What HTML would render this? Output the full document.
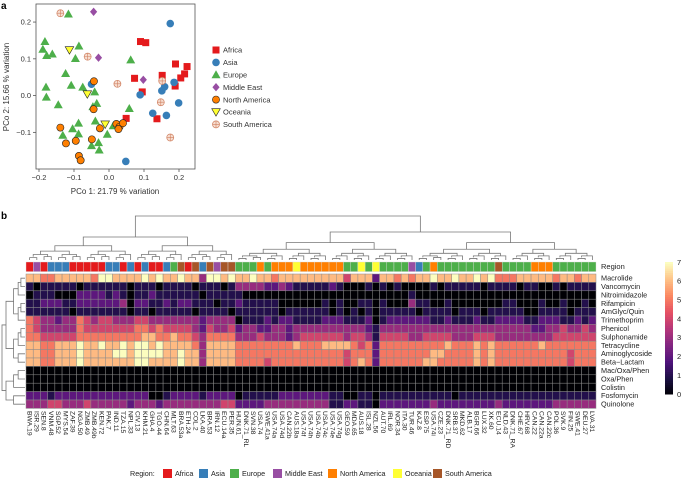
<!DOCTYPE html>
<html><head><meta charset="utf-8"><style>
body{margin:0;background:#fff}
svg{display:block;font-family:"Liberation Sans",sans-serif}
</style></head><body>
<svg id="fig" width="683" height="478" viewBox="0 0 683 478">
<text x="1" y="9" font-size="10" font-weight="bold">a</text>
<text x="1" y="219" font-size="10" font-weight="bold">b</text>
<g id="scatter"></g>
<g id="legendA"></g>
<g id="heat"></g>
<g id="legendB"></g>
</svg>
<script>
const NS="http://www.w3.org/2000/svg";
function mk(tag,attrs,parent){const e=document.createElementNS(NS,tag);for(const k in attrs)e.setAttribute(k,attrs[k]);parent.appendChild(e);return e;}
const regionNames=["Africa","Asia","Europe","Middle East","North America","Oceania","South America"];
const regionColors=["#e41a1c","#377eb8","#4daf4a","#984ea3","#ff7f00","#ffff33","#a65628"];
// ---------- PCoA data ----------
const africaX=[0.090,0.105,0.073,0.095,0.152,0.190,0.223,0.205,0.216,0.189,0.049,0.137];
const africaY=[0.147,0.144,0.047,0.010,0.055,0.086,0.079,0.048,0.059,0.026,-0.062,-0.063];
const asiaX=[0.175,-0.050,0.089,0.151,0.159,0.186,0.199,0.125,0.164,0.048];
const asiaY=[0.196,0.031,0.002,0.013,0.024,0.036,-0.020,-0.048,-0.054,-0.179];
const europeX=[-0.116,-0.183,-0.189,-0.178,-0.162,-0.086,-0.096,0.062,-0.124,-0.108,-0.180,-0.179,-0.145,-0.075,-0.041,-0.035,-0.046,0.058,-0.039,-0.087,-0.104,-0.087,-0.132,-0.005,0.012,-0.050,-0.030,-0.028];
const europeY=[0.222,0.147,0.126,0.109,0.113,0.135,0.101,0.097,0.060,0.028,0.023,-0.004,-0.025,0.023,0.010,-0.021,-0.030,-0.035,-0.069,-0.075,-0.090,-0.104,-0.108,-0.105,-0.082,-0.136,-0.128,-0.148];
const meX=[-0.044,-0.030,0.098];
const meY=[0.228,0.103,0.043];
const naX=[-0.043,-0.044,-0.139,-0.123,-0.095,-0.049,-0.026,0.021,0.030,0.027,0.040,-0.086,-0.081];
const naY=[0.039,-0.037,-0.087,-0.130,-0.123,-0.119,-0.089,-0.077,-0.085,-0.091,-0.075,-0.164,-0.176];
const ocX=[-0.113,-0.062,-0.011];
const ocY=[0.124,0.004,-0.078];
const saX=[-0.139,-0.061,0.024,0.152,0.148,0.175];
const saY=[0.224,0.106,0.032,0.040,-0.018,-0.114];
const xTicks=[-0.2,-0.1,0.0,0.1,0.2];
const yTicks=[-0.1,0.0,0.1,0.2];
const sx=v=>109+v*350, sy=v=>95.6-v*367.7;
const S=document.getElementById('scatter');
const box=mk('rect',{x:36,y:4,width:159,height:165,fill:'none',stroke:'#555','stroke-width':0.8},S);

xTicks.forEach(t=>{const l=mk('line',{x1:sx(t),x2:sx(t),y1:169,y2:172,stroke:'#555','stroke-width':0.8},S);

const tx=mk('text',{x:sx(t),y:180,'font-size':7.5,'text-anchor':'middle',fill:'#333'},S);tx.textContent=(t<0?'\u2212':'')+Math.abs(t).toFixed(1);
});
yTicks.forEach(t=>{const l=mk('line',{x1:33,x2:36,y1:sy(t),y2:sy(t),stroke:'#555','stroke-width':0.8},S);

const tx=mk('text',{x:31,y:sy(t)+2.6,'font-size':7.5,'text-anchor':'end',fill:'#333'},S);tx.textContent=(t<0?'\u2212':'')+Math.abs(t).toFixed(1);
});
let xt=mk('text',{x:115,y:194,'font-size':8,'text-anchor':'middle',fill:'#333'},S);xt.textContent='PCo 1: 21.79 % variation';

let yt=mk('text',{x:0,y:0,'font-size':8,'text-anchor':'middle',fill:'#333',transform:'translate(9,87) rotate(-90)'},S);yt.textContent='PCo 2: 15.66 % variation';

function marker(k,x,y,parent){
 let e;
 if(k===0){e=mk('rect',{x:x-3.5,y:y-3.5,width:7,height:7,fill:regionColors[0]},parent);}
 else if(k===1){e=mk('circle',{cx:x,cy:y,r:3.8,fill:regionColors[1]},parent);}
 else if(k===2){e=mk('path',{d:`M${x},${y-4.5}L${x+4.5},${y+3.5}L${x-4.5},${y+3.5}Z`,fill:regionColors[2]},parent);}
 else if(k===3){e=mk('path',{d:`M${x},${y-4.2}L${x+3.6},${y}L${x},${y+4.2}L${x-3.6},${y}Z`,fill:regionColors[3]},parent);}
 else if(k===4){e=mk('circle',{cx:x,cy:y,r:3.6,fill:regionColors[4],stroke:'#222','stroke-width':0.6},parent);}
 else if(k===5){e=mk('path',{d:`M${x-4.3},${y-3.3}L${x+4.3},${y-3.3}L${x},${y+4.2}Z`,fill:regionColors[5],stroke:'#222','stroke-width':0.6},parent);}
 else {e=mk('g',{},parent);mk('circle',{cx:x,cy:y,r:3.5,fill:'#f6ddd0',stroke:'#d08060','stroke-width':0.7},e);
   mk('path',{d:`M${x-3.5},${y}H${x+3.5}M${x},${y-3.5}V${y+3.5}`,stroke:'#d08060','stroke-width':0.6},e);}
 return e;
}
const groups=[[africaX,africaY],[asiaX,asiaY],[europeX,europeY],[meX,meY],[naX,naY],[ocX,ocY],[saX,saY]];
groups.forEach((g,k)=>{g[0].forEach((v,i)=>{const m=marker(k,sx(v),sy(g[1][i]),S);

});});
const LA=document.getElementById('legendA');
regionNames.forEach((n,k)=>{const y=50+k*12.4;const g=mk('g',{},LA);

marker(k,216,y,g);const t=mk('text',{x:223,y:y+2.7,'font-size':7.5,fill:'#333'},g);t.textContent=n;});
// ---------- heatmap data ----------
const samples=["BWA.19","ISR.29","SEN.8","VNM.48","SGP.52","MYS.54","ZAF.39","NGA.50","ZMB.49","ZMB.49b","KEN.72","PAK.7","IND.11","TZA.15","NPL.33","CIV.13","KHM.21","GHA.4","TGO.44","CHN.64","MLT.63","BRA.53a","ETH.24","COL.2","LKA.40","BRA.53","IRN.12","ECU.14a","PER.35","HUN.61","DNK.71_RL","SVN.38","USA.74","SWE.41a","USA.74a","USA.74d","CAN.22b","AUS.18a","USA.74f","USA.74h","USA.74b","USA.74c","USA.74e","USA.74g","GEO.59","MDA.65","AUS.18","ISL.28","NZL.56","AUT.70","IRL.69","NOR.34","ITA.30","TUR.46","KAZ.8","ESP.75","USA.74i","CZE.23","DNK.71_RD","SRB.37","MKD.62","ALB.17","BGR.66","LUX.32","XK.60","ECU.14","NLD.43","DNK.71_RA","CHE.67","HRV.68","CAN.22","CAN.22a","CAN.22c","POL.36","SVK.9","FIN.25","SWE.41","DEU.27","LVA.31"];
const sampleRegion=[0,3,0,1,1,1,0,0,0,0,0,1,1,0,1,0,1,0,0,1,2,6,0,6,1,6,3,6,6,2,2,2,4,2,4,4,4,5,4,4,4,4,4,4,2,2,5,2,5,2,2,2,2,3,1,2,4,2,2,2,2,2,2,2,2,6,2,2,2,2,4,4,4,2,2,2,2,2,2];
const drugs=["Macrolide","Vancomycin","Nitroimidazole","Rifampicin","AmGlyc/Quin","Trimethoprim","Phenicol","Sulphonamide","Tetracycline","Aminoglycoside","Beta\u2212Lactam","Mac/Oxa/Phen","Oxa/Phen","Colistin","Fosfomycin","Quinolone"];
const macrolide=[6,6,5,5,6,6,6,6,6,5,7,7,6,6,6,6,7,6,7,6,6,7,6,6,3,7,7,6,7,6,6,7,6,6,5,6,6,6,6,6,6,6,6,6,4,6,6,6,2,6,6,5,6,5,6,6,7,6,6,7,6,6,7,6,7,5,5,5,6,6,6,6,6,5,6,6,5,6,6];
const vancomycin=[1,0,1,1,1,1,1,0,1,1,1,1,1,1,0,1,1,1,0,1,1,1,1,0,1,1,1,0,1,3,3,3,3,2,2,3,2,1,1,1,1,1,2,1,0,0,0,1,0,1,0,1,0,0,0,0,1,0,1,1,1,1,1,0,1,1,1,1,0,1,1,0,0,1,0,1,1,1,1];
const nitroimidazole=[0,1,1,1,0,0,0,2,2,2,2,1,2,1,0,1,1,2,1,1,1,1,1,1,0,1,1,1,1,1,0,0,0,0,0,0,0,0,0,0,0,0,0,0,0,0,0,0,0,0,0,0,0,1,0,0,0,0,0,0,0,0,0,0,0,0,0,0,0,0,0,0,0,0,0,0,0,0,0];
const rifampicin=[1,1,2,2,2,1,1,2,2,2,2,2,2,3,0,2,2,1,1,2,1,2,2,1,1,1,0,1,1,2,1,1,1,1,1,0,0,0,0,0,0,1,0,1,0,0,1,1,0,1,0,0,0,3,1,1,0,0,1,0,0,0,0,0,0,0,1,1,0,0,0,1,0,0,1,0,0,1,0];
const amglycquin=[1,1,1,1,1,1,0,1,1,1,1,1,1,1,0,1,1,0,1,1,1,1,1,0,1,1,1,1,0,1,1,1,1,1,1,0,1,1,1,1,1,1,0,1,0,1,0,1,0,1,1,1,1,1,0,1,1,1,1,0,1,1,1,0,1,1,1,1,1,0,0,1,1,1,1,0,1,1,1];
const trimethoprim=[5,4,3,3,2,3,3,5,4,3,4,4,3,3,3,4,4,3,3,3,3,3,3,3,2,3,3,3,3,0,1,1,1,2,1,2,2,1,1,1,1,2,2,2,1,1,1,2,0,1,2,2,2,2,2,2,1,1,2,1,1,1,2,1,1,2,2,2,2,1,1,2,2,2,1,1,2,1,2];
const phenicol=[5,4,3,3,3,3,3,5,4,4,4,4,4,4,4,5,5,4,5,4,4,4,4,3,2,4,3,3,4,2,3,3,2,2,3,3,2,3,3,3,3,3,3,3,3,3,3,2,1,3,3,3,3,3,3,3,3,3,3,3,3,3,3,3,3,3,3,3,3,3,2,2,3,3,4,3,3,4,3];
const sulphonamide=[5,5,4,4,4,4,4,5,5,5,5,5,5,5,5,5,6,6,5,5,6,5,5,4,3,5,5,5,5,3,3,3,4,3,3,3,2,3,4,4,4,4,4,4,3,4,4,3,1,4,4,4,4,3,3,4,4,4,4,3,3,3,4,4,4,3,3,3,3,3,3,3,3,4,4,4,4,4,4];
const tetracycline=[6,6,5,5,6,6,6,7,6,6,7,6,6,7,6,7,7,6,7,6,6,6,6,5,3,6,6,6,6,5,5,5,5,5,5,5,5,6,5,5,5,6,6,6,6,5,4,5,2,5,5,5,5,5,5,5,5,5,6,5,5,5,6,5,6,5,5,5,5,5,5,6,5,5,5,5,5,5,5];
const aminoglycoside=[6,6,5,5,6,6,6,7,6,6,6,6,7,7,6,7,7,7,7,6,6,7,6,6,3,6,6,6,6,5,5,5,5,5,5,5,5,5,5,5,5,5,5,5,4,5,5,5,2,5,5,5,5,5,5,5,6,6,5,5,5,5,6,5,6,5,5,5,5,5,5,5,5,5,5,4,5,5,5];
const betalactam=[6,6,5,5,6,6,6,7,6,6,6,6,6,6,6,7,7,6,6,6,6,7,6,6,3,6,6,6,6,5,5,5,5,4,5,5,5,5,5,5,5,5,5,5,4,5,6,5,2,5,5,5,5,5,5,6,6,5,5,5,5,5,6,5,6,5,5,5,5,5,5,5,5,5,5,4,5,5,5];
const macoxaphen=[0,0,0,0,0,0,0,0,0,0,0,0,0,0,0,0,0,0,0,0,0,0,0,0,0,0,0,0,0,0,0,0,0,0,0,0,0,0,0,0,0,0,0,0,0,0,0,0,0,0,0,0,0,0,0,0,0,0,0,0,0,0,0,0,0,0,0,0,0,0,0,0,0,0,0,0,0,0,0];
const oxaphen=[0,0,0,0,0,0,0,0,0,0,0,0,0,0,0,0,0,0,0,0,0,0,0,0,0,0,0,0,0,0,0,0,0,0,0,0,0,0,0,0,0,0,0,0,0,0,0,0,0,0,0,0,0,0,0,0,0,0,0,0,0,0,0,0,0,0,0,0,0,0,0,0,0,0,0,0,0,0,0];
const colistin=[0,0,0,0,0,0,0,0,0,0,0,0,0,0,0,0,0,0,0,0,0,0,0,0,0,0,0,0,0,0,0,0,0,0,0,0,0,0,0,0,0,0,0,0,0,0,0,0,0,0,0,0,0,0,0,0,0,0,0,0,0,0,0,0,0,0,0,0,0,0,0,0,0,0,0,0,0,0,0];
const fosfomycin=[2,2,2,1,2,2,2,2,2,2,2,2,2,2,2,2,2,0,0,1,2,2,2,2,1,2,2,2,2,0,1,1,1,1,1,2,2,2,2,2,2,2,1,1,0,0,1,1,0,1,1,1,1,1,1,1,1,1,1,0,1,1,1,1,1,1,1,1,1,1,1,1,1,1,1,1,1,1,1];
const quinolone=[3,3,3,4,4,3,3,3,4,3,3,3,3,3,2,3,3,3,2,3,3,3,3,3,3,3,3,4,4,2,2,2,2,3,3,3,3,3,3,3,3,3,1,1,2,2,1,1,0,2,2,2,2,2,2,2,3,2,2,2,2,2,2,2,2,3,2,2,2,2,2,2,2,3,3,3,3,3,3];
const heatRows=[macrolide,vancomycin,nitroimidazole,rifampicin,amglycquin,trimethoprim,phenicol,sulphonamide,tetracycline,aminoglycoside,betalactam,macoxaphen,oxaphen,colistin,fosfomycin,quinolone];
const scaleTicks=[0,1,2,3,4,5,6,7];
// ---------- heatmap drawing ----------
const H=document.getElementById('heat');
const hx0=26,hx1=596,cw=(hx1-hx0)/samples.length,hy0=274,rh=8.4,sy0=262,sh=9.6;
const colX=i=>hx0+i*cw, rowY=r=>hy0+r*rh;
const magma=[[0,0,4],[28,16,68],[79,18,123],[129,37,129],[181,54,122],[229,80,100],[251,135,97],[254,194,135],[252,253,191]];
function cmap(v){let t=Math.max(0,Math.min(1,v/7))*8;const i=Math.min(7,Math.floor(t)),f=t-i;const a=magma[i],b=magma[i+1];
return `rgb(${a.map((c,k)=>Math.round(c+(b[k]-c)*f)).join(',')})`;}
samples.forEach((s,i)=>{const r=mk('rect',{x:colX(i),y:sy0,width:cw,height:sh,fill:regionColors[sampleRegion[i]],stroke:'#ddd','stroke-width':0.4},H);
});
heatRows.forEach((row,r)=>{row.forEach((v,i)=>{const c=mk('rect',{x:colX(i),y:rowY(r),width:cw,height:rh,fill:cmap(v),stroke:'#8a8a8a','stroke-width':0.5},H);
});});
let rl=mk('text',{x:601,y:sy0+7,'font-size':7.5,fill:'#222'},H);rl.textContent='Region';

drugs.forEach((d,r)=>{const t=mk('text',{x:601,y:rowY(r)+6.6,'font-size':7.3,fill:'#222'},H);t.textContent=d;
});
samples.forEach((s,i)=>{const x=colX(i)+cw/2;const t=mk('text',{x:0,y:0,'font-size':6.8,fill:'#222',transform:`translate(${x-2.3},411) rotate(90)`},H);t.textContent=s;
});
// colorbar
const cbx=665,cbTop=262,cbBot=394;
for(let k=0;k<60;k++){const v=7*(1-k/60);const r=mk('rect',{x:cbx,y:cbTop+k*(cbBot-cbTop)/60,width:8,height:(cbBot-cbTop)/60+0.5,fill:cmap(v)},H);
}
scaleTicks.forEach(v=>{const y=cbBot-(v/7)*(cbBot-cbTop);const t=mk('text',{x:677,y:y+2.8,'font-size':7.5,fill:'#222'},H);t.textContent=v;
});
// dendrograms (approximate structure)
const D=mk('g',{stroke:'#777','stroke-width':0.8,fill:'none'},H);

function tree(lo,hi,y,pos,vertical,limit){
 if(lo===hi) return pos(lo);
 const mid=Math.floor((lo+hi)/2);
 const cy=y+(limit-y)*0.38;
 const a=tree(lo,mid,cy+ (hi-lo<4?1:0),pos,vertical,limit), b=tree(mid+1,hi,cy,pos,vertical,limit);
 const ya=(mid===lo)?limit:cy, yb=(mid+1===hi)?limit:cy;
 if(vertical) mk('path',{d:`M${a},${ya}V${y}H${b}V${yb}`},D);
 else mk('path',{d:`M${ya},${a}H${y}V${b}H${yb}`},D);
 return (a+b)/2;
}
const cpos=i=>colX(i)+cw/2;
const lc=tree(0,28,237,cpos,true,260), rc=tree(29,78,232,cpos,true,260);
mk('path',{d:`M${lc},237V216H${rc}V232`},D);
const D2=mk('g',{stroke:'#777','stroke-width':0.8,fill:'none'},H);

const rpos=r=>rowY(r)+rh/2;
function rtree(lo,hi,x){if(lo===hi)return rpos(lo);const mid=Math.floor((lo+hi)/2);const cx=x+(25-x)*0.4;
 const a=rtree(lo,mid,cx),b=rtree(mid+1,hi,cx);const xa=mid===lo?25:cx,xb=mid+1===hi?25:cx;
 mk('path',{d:`M${xa},${a}H${x}V${b}H${xb}`},D2);return (a+b)/2;}
const t1=rtree(0,10,6),t2=rtree(11,15,6);
mk('path',{d:`M6,${t1}H2V${t2}H6`},D2);
// bottom legend
const LB=document.getElementById('legendB');
let rlab=mk('text',{x:130,y:476,'font-size':7.2,fill:'#222'},LB);rlab.textContent='Region:';
const lbx=[163,199,230,273,328,393,433];
regionNames.forEach((n,k)=>{const g=mk('g',{},LB);
mk('rect',{x:lbx[k],y:469,width:9,height:9,fill:regionColors[k]},g);
const t=mk('text',{x:lbx[k]+12,y:476,'font-size':7.2,fill:'#222'},g);t.textContent=n;});
</script>
</body></html>
